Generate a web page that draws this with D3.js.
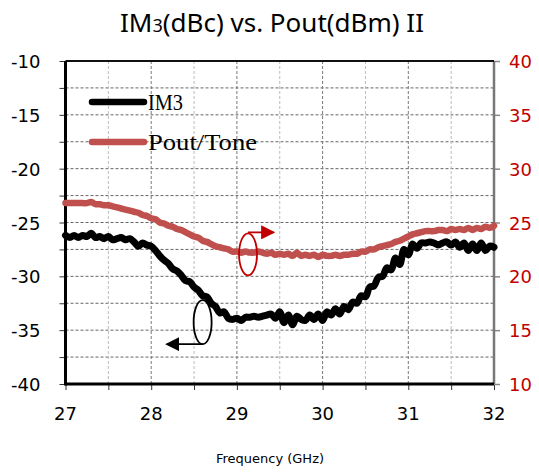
<!DOCTYPE html>
<html>
<head>
<meta charset="utf-8">
<script src="https://cdn.jsdelivr.net/npm/d3@7"></script>
<style>
  body { margin: 0; background: #fff; }
  svg { display: block; }
</style>
</head>
<body>
<div id="chart"></div>
<script>
// frequency grid, 0.05 GHz step
var freq = d3.range(0, 101).map(function (i) { return 27 + i * 0.05; });

// IM3 (dBc), left axis
var im3 = [
  -26.2, -26.4, -26.2, -26.4, -26.2, -26.3, -26.0, -26.4, -26.3, -26.5,
  -26.3, -26.6, -26.5, -26.4, -26.6, -26.5, -26.8, -27.2, -26.9, -27.1,
  -27.2, -27.6, -28.1, -28.5, -28.8, -29.3, -29.5, -29.9, -30.4, -30.5,
  -31.0, -31.3, -31.8, -31.9, -32.5, -32.8, -33.4, -33.3, -33.9, -34.0,
  -33.9, -34.1, -33.8, -33.8, -33.7, -33.8, -33.7, -33.6, -33.5, -33.9,
  -33.3, -34.3, -33.6, -34.5, -33.7, -34.0, -34.1, -33.6, -34.0, -33.5,
  -34.1, -33.3, -33.6, -33.0, -33.5, -32.8, -33.1, -32.4, -32.5, -31.8,
  -31.9, -31.0, -30.9, -30.1, -30.0, -29.2, -29.4, -28.3, -28.9, -27.5,
  -28.0, -27.0, -27.4, -26.9, -26.9, -26.8, -26.9, -27.1, -26.9, -26.8,
  -27.1, -26.8, -27.3, -26.9, -27.6, -27.0, -27.6, -26.9, -27.6, -27.2,
  -27.3
];

// Pout/Tone (dBm), right axis
var pout = [
  26.8, 26.8, 26.8, 26.8, 26.8, 26.8, 26.9, 26.7, 26.7, 26.6,
  26.6, 26.5, 26.4, 26.3, 26.2, 26.1, 26.0, 25.9, 25.7, 25.6,
  25.4, 25.3, 25.0, 24.9, 24.7, 24.6, 24.4, 24.3, 24.1, 23.9,
  23.7, 23.6, 23.3, 23.2, 23.0, 22.8, 22.7, 22.6, 22.5, 22.3,
  22.3, 22.2, 22.3, 22.2, 22.2, 22.3, 22.2, 22.1, 22.2, 22.0,
  22.1, 22.0, 22.1, 21.9, 22.2, 21.9, 22.0, 21.9, 22.0, 21.8,
  22.0, 21.9, 21.9, 22.0, 21.9, 22.0, 22.0, 22.1, 22.1, 22.3,
  22.3, 22.5, 22.5, 22.7, 22.8, 22.9, 23.0, 23.2, 23.3, 23.5,
  23.7, 23.9, 24.0, 24.1, 24.2, 24.2, 24.2, 24.3, 24.3, 24.2,
  24.4, 24.3, 24.4, 24.3, 24.5, 24.3, 24.5, 24.4, 24.6, 24.5,
  24.7
];

var xTicks = [27, 28, 29, 30, 31, 32];
var leftTicks = [-40, -35, -30, -25, -20, -15, -10];
var rightTicks = [10, 15, 20, 25, 30, 35, 40];

var svgWidth = 539, svgHeight = 472;
var margin = { top: 61, bottom: 88, left: 65.5, right: 45 };
var width = svgWidth - margin.left - margin.right;
var height = svgHeight - margin.top - margin.bottom;

var svg = d3.select("#chart").append("svg")
    .attr("width", svgWidth)
    .attr("height", svgHeight);

var g = svg.append("g")
    .attr("transform", "translate(" + margin.left + "," + margin.top + ")");

var x = d3.scaleLinear().domain([27, 32]).range([0, width]);
var yL = d3.scaleLinear().domain([-40, -10]).range([height, 0]);
var yR = d3.scaleLinear().domain([10, 40]).range([height, 0]);

// grid
g.append("g").selectAll("line")
    .data(d3.range(-37.5, -10, 2.5))
    .enter().append("line")
    .attr("x1", 0).attr("x2", width)
    .attr("y1", d => yL(d)).attr("y2", d => yL(d))
    .style("stroke", "#666").style("stroke-width", 1)
    .style("stroke-dasharray", "3,2");

g.append("g").selectAll("line")
    .data(d3.range(27.5, 32, 0.5))
    .enter().append("line")
    .attr("x1", d => x(d)).attr("x2", d => x(d))
    .attr("y1", 0).attr("y2", height)
    .style("stroke", d => (Math.abs(d - Math.round(d)) < 0.01 ? "#777" : "#bbb"))
    .style("stroke-width", 1)
    .style("stroke-dasharray", "3,2");

// axes
var axisFont = "Tahoma, 'DejaVu Sans', Verdana, sans-serif";

var xAxis = g.append("g")
    .attr("transform", "translate(0," + height + ")")
    .call(d3.axisBottom(x).tickValues(d3.range(27, 32.01, 0.5)).tickSize(6).tickFormat(""));
xAxis.select(".domain").remove();
xAxis.selectAll("line").style("stroke", "#333");

g.append("g").selectAll("text")
    .data(xTicks)
    .enter().append("text")
    .attr("x", d => x(d)).attr("y", height + 36)
    .attr("text-anchor", "middle")
    .style("font-family", axisFont).style("font-size", "18px")
    .text(d => d);

var lAxis = g.append("g")
    .call(d3.axisLeft(yL).tickValues(d3.range(-40, -9.9, 2.5)).tickSize(6).tickFormat(""));
lAxis.select(".domain").remove();
lAxis.selectAll("line").style("stroke", "#333");

g.append("g").selectAll("text")
    .data(leftTicks)
    .enter().append("text")
    .attr("x", -25).attr("y", d => yL(d) + 7)
    .attr("text-anchor", "end")
    .style("font-family", axisFont).style("font-size", "18px")
    .text(d => d);

var rAxis = g.append("g")
    .attr("transform", "translate(" + width + ",0)")
    .call(d3.axisRight(yR).tickValues(rightTicks).tickSize(6).tickFormat(""));
rAxis.select(".domain").remove();
rAxis.selectAll("line").style("stroke", "#888").style("stroke-width", 1.5);

g.append("g").selectAll("text")
    .data(rightTicks)
    .enter().append("text")
    .attr("x", width + 15).attr("y", d => yR(d) + 7)
    .style("font-family", axisFont).style("font-size", "18px")
    .style("fill", "#c00000")
    .text(d => d);

// frame
g.append("line").attr("x1", width).attr("x2", width).attr("y1", 0).attr("y2", height)
    .style("stroke", "#777").style("stroke-width", 2.5);
g.append("line").attr("x1", 0).attr("x2", width).attr("y1", 0).attr("y2", 0)
    .style("stroke", "#111").style("stroke-width", 2);
g.append("line").attr("x1", 0).attr("x2", 0).attr("y1", 0).attr("y2", height + 1.5)
    .style("stroke", "#000").style("stroke-width", 3);
g.append("line").attr("x1", 0).attr("x2", width).attr("y1", height).attr("y2", height)
    .style("stroke", "#000").style("stroke-width", 3);

// curves
var lineL = d3.line().x((d, i) => x(freq[i])).y(d => yL(d)).curve(d3.curveCatmullRom);
var lineR = d3.line().x((d, i) => x(freq[i])).y(d => yR(d)).curve(d3.curveCatmullRom);

g.append("path").datum(pout)
    .attr("d", lineR)
    .style("fill", "none").style("stroke", "#c0504d")
    .style("stroke-width", 6.5).style("stroke-linejoin", "round").style("stroke-linecap", "round");

g.append("path").datum(im3)
    .attr("d", lineL)
    .style("fill", "none").style("stroke", "#000")
    .style("stroke-width", 7).style("stroke-linejoin", "round").style("stroke-linecap", "round");

// annotations: ellipses with arrows
var defs = svg.append("defs");
function arrowHead(id, color) {
    defs.append("marker").attr("id", id)
        .attr("viewBox", "0 0 10 10").attr("refX", 9).attr("refY", 5)
        .attr("markerWidth", 14).attr("markerHeight", 14)
        .attr("markerUnits", "userSpaceOnUse")
        .attr("orient", "auto")
        .append("path").attr("d", "M0,0 L10,5 L0,10 Z").style("fill", color);
}
arrowHead("arrR", "#c00000");
arrowHead("arrK", "#000");

var rx = x(29.13), ry = yR(22.04);
g.append("ellipse").attr("cx", rx).attr("cy", ry).attr("rx", 9).attr("ry", 21)
    .style("fill", "none").style("stroke", "#c00000").style("stroke-width", 1.8);
g.append("line").attr("x1", rx).attr("y1", ry - 22).attr("x2", x(29.43)).attr("y2", ry - 22)
    .style("stroke", "#c00000").style("stroke-width", 1.8).attr("marker-end", "url(#arrR)");

var kx = x(28.6), ky = yL(-34.26);
g.append("ellipse").attr("cx", kx).attr("cy", ky).attr("rx", 9).attr("ry", 22)
    .style("fill", "none").style("stroke", "#000").style("stroke-width", 1.8);
g.append("line").attr("x1", kx).attr("y1", ky + 22).attr("x2", x(28.18)).attr("y2", ky + 22)
    .style("stroke", "#000").style("stroke-width", 1.8).attr("marker-end", "url(#arrK)");

// legend
var legend = [
    { name: "IM3", color: "#000", y: 102, len: 35 },
    { name: "Pout/Tone", color: "#c0504d", y: 142, len: 109 }
];
legend.forEach(function (d) {
    svg.append("line").attr("x1", 92).attr("x2", 144).attr("y1", d.y).attr("y2", d.y)
        .style("stroke", d.color).style("stroke-width", 6.5).style("stroke-linecap", "round");
    svg.append("text").attr("x", 148).attr("y", d.y + 8)
        .attr("textLength", d.len).attr("lengthAdjust", "spacingAndGlyphs")
        .style("font-family", "'Liberation Serif', 'Times New Roman', serif")
        .style("font-size", "23px")
        .text(d.name);
});

// title
var title = svg.append("text")
    .attr("x", 272).attr("y", 32)
    .attr("text-anchor", "middle")
    .style("font-family", "'Noto Sans', 'Open Sans', sans-serif")
    .style("font-size", "26px");
title.append("tspan").text("IM");
title.append("tspan").style("font-size", "18px").text("3");
title.append("tspan").text("(dBc) vs. Pout(dBm) II");

// x label
svg.append("text")
    .attr("x", 270).attr("y", 463)
    .attr("text-anchor", "middle")
    .style("font-family", axisFont).style("font-size", "13px")
    .text("Frequency (GHz)");
</script>
</body>
</html>
